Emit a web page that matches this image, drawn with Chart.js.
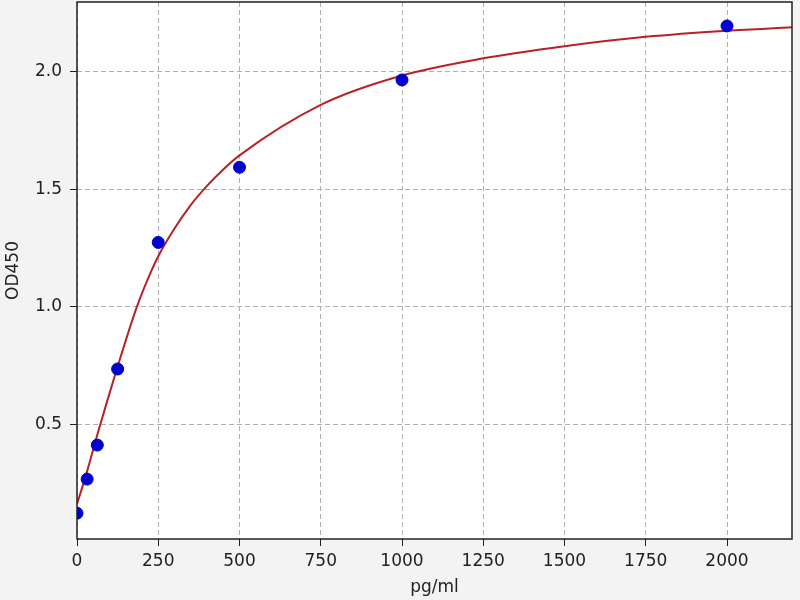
<!DOCTYPE html>
<html>
<head>
<meta charset="utf-8">
<script src="https://cdn.jsdelivr.net/npm/chart.js@4.4.1/dist/chart.umd.min.js"></script>
<style>
  html, body { margin: 0; padding: 0; background: #f3f3f3; }
  #wrap { width: 800px; height: 600px; }
</style>
</head>
<body>
<div id="wrap"><canvas id="mygraph" width="800" height="600"></canvas></div>
<script>
// standard points
let concX = [0, 31.25, 62.5, 125, 250, 500, 1000, 2000];
let odY = [0.121, 0.266, 0.411, 0.735, 1.274, 1.594, 1.966, 2.196];

// fitted curve
let curveX = [0, 31.25, 62.5, 125, 183, 214, 250, 296, 348, 400, 450, 500, 750, 1000, 1250, 1500, 1750, 2000, 2200];
let curveY = [0.16, 0.30, 0.455, 0.745, 0.995, 1.105, 1.215, 1.325, 1.43, 1.515, 1.585, 1.645, 1.86, 1.985, 2.058, 2.11, 2.15, 2.176, 2.19];

let xTicks = [0, 250, 500, 750, 1000, 1250, 1500, 1750, 2000];
let yTicks = [0.5, 1.0, 1.5, 2.0];

let font = { family: "'DejaVu Sans'", size: 17 };

// white plot area, grey page, black frame
let frame = {
  id: 'frame',
  beforeDraw(chart) {
    let c = chart.ctx, a = chart.chartArea;
    c.save();
    c.fillStyle = '#f3f3f3';
    c.fillRect(0, 0, chart.width, chart.height);
    c.fillStyle = '#ffffff';
    c.fillRect(a.left, a.top, a.right - a.left, a.bottom - a.top);
    c.restore();
  },
  afterDraw(chart) {
    let c = chart.ctx, a = chart.chartArea;
    c.save();
    c.strokeStyle = '#222';
    c.lineWidth = 1.5;
    c.strokeRect(a.left, a.top, a.right - a.left, a.bottom - a.top);
    c.restore();
  }
};

function display() {
  var ctx = document.getElementById("mygraph");

  var mygraph = new Chart(ctx, {
    type: 'scatter',
    data: {
      datasets: [
        {
          data: curveX.map((x, i) => ({ x: x, y: curveY[i] })),
          showLine: true,
          borderColor: '#b8202a',
          borderWidth: 2,
          pointRadius: 0,
          cubicInterpolationMode: 'monotone',
          order: 2
        },
        {
          data: concX.map((x, i) => ({ x: x, y: odY[i] })),
          backgroundColor: '#0000cc',
          borderColor: '#0000cc',
          pointRadius: 6,
          order: 1
        }
      ]
    },
    options: {
      responsive: false,
      animation: false,
      devicePixelRatio: 1,
      layout: { autoPadding: false, padding: { top: 2, right: 8, left: 0, bottom: 0 } },
      plugins: { legend: { display: false }, tooltip: { enabled: false } },
      scales: {
        x: {
          type: 'linear',
          min: 0,
          max: 2200,
          afterFit: s => { s.height = 61; s.paddingLeft = 0; s.paddingRight = 0; },
          afterBuildTicks: s => { s.ticks = xTicks.map(v => ({ value: v })); },
          ticks: { font: font, color: '#222', padding: 5, maxRotation: 0, callback: v => String(v) },
          grid: { color: '#b0b0b0', tickColor: '#222', tickLength: 7, tickBorderDash: [] },
          border: { display: false, dash: [5, 3] },
          title: { display: true, text: 'pg/ml', font: font, color: '#222', padding: { top: 0, bottom: 2 } }
        },
        y: {
          type: 'linear',
          min: 0.011,
          max: 2.298,
          afterFit: s => { s.width = 77; s.paddingTop = 0; s.paddingBottom = 0; },
          afterBuildTicks: s => { s.ticks = yTicks.map(v => ({ value: v })); },
          ticks: { font: font, color: '#222', padding: 8, callback: v => v.toFixed(1) },
          grid: { color: '#b0b0b0', tickColor: '#222', tickLength: 7, tickBorderDash: [] },
          border: { display: false, dash: [5, 3] },
          title: { display: true, text: 'OD450', font: font, color: '#222', padding: { top: 3, bottom: 0 } }
        }
      }
    },
    plugins: [frame]
  });
}

display();
</script>
</body>
</html>
